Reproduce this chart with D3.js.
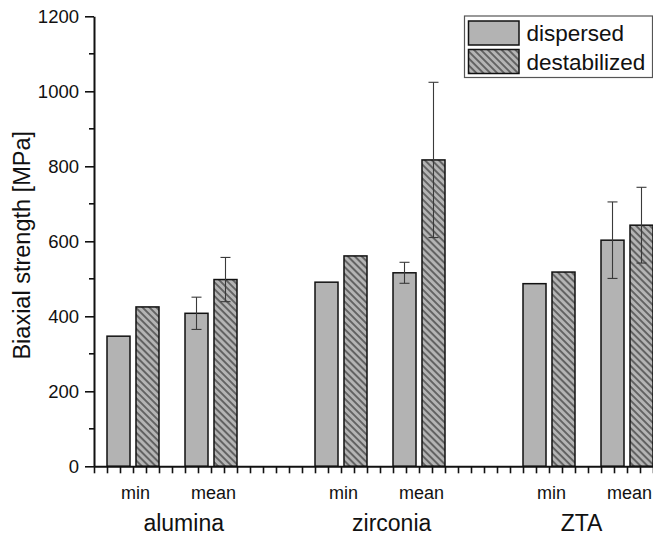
<!DOCTYPE html>
<html>
<head>
<meta charset="utf-8">
<script src="https://cdn.jsdelivr.net/npm/d3@7/dist/d3.min.js"></script>
<style>
  html, body { margin: 0; padding: 0; background: #fff; }
  svg { display: block; font-family: Arial, "Liberation Sans", sans-serif; }
</style>
</head>
<body>
<svg id="chart" width="653" height="536"></svg>
<script>
// Biaxial strength of sintered ceramics, dispersed vs destabilized suspensions
const materials = ["alumina", "zirconia", "ZTA"];
const stats = ["min", "mean"];
const seriesNames = ["dispersed", "destabilized"];

const dispersedMin  = [347, 491, 487];
const dispersedMean = [408, 516, 603];
const destabMin     = [425, 561, 518];
const destabMean    = [498, 817, 643];
const dispersedMeanErr = [43, 28, 102];
const destabMeanErr    = [59, 207, 101];

const yTicks = [0, 200, 400, 600, 800, 1000, 1200];

const svg = d3.select("#chart");
const FONT = "Arial, 'Liberation Sans', sans-serif";

// x runs over unit slots: each material block is 16 slots wide,
// each stat pair occupies 4 slots and starts 6 slots after the previous one
const x = d3.scaleLinear().domain([0, 43]).range([94, 653]);
const y = d3.scaleLinear().domain([0, 1200]).range([466.3, 16.3]);

const barW = 1.77;           // in slot units
const pairStart = (i, j) => 16 * i + 1 + 6 * j;

// hatch pattern for destabilized bars
const defs = svg.append("defs");
const pat = defs.append("pattern")
  .attr("id", "hatch")
  .attr("patternUnits", "userSpaceOnUse")
  .attr("width", 4.9).attr("height", 4.9)
  .attr("patternTransform", "rotate(-45)");
pat.append("rect").attr("width", 4.9).attr("height", 4.9).attr("fill", "#b4b4b4");
pat.append("line").attr("x1", 1).attr("y1", 0).attr("x2", 1).attr("y2", 4.9)
  .attr("stroke", "#222").attr("stroke-width", 1.1);

// build bar records
const bars = [];
materials.forEach((m, i) => {
  stats.forEach((s, j) => {
    const st = pairStart(i, j);
    bars.push({ series: 0, x0: st, value: j === 0 ? dispersedMin[i] : dispersedMean[i],
                err: j === 0 ? null : dispersedMeanErr[i] });
    bars.push({ series: 1, x0: st + 4 - barW, value: j === 0 ? destabMin[i] : destabMean[i],
                err: j === 0 ? null : destabMeanErr[i] });
  });
});

svg.append("g").selectAll("rect").data(bars).join("rect")
  .attr("x", d => x(d.x0))
  .attr("y", d => y(d.value))
  .attr("width", d => x(d.x0 + barW) - x(d.x0))
  .attr("height", d => y(0) - y(d.value))
  .attr("fill", d => d.series === 0 ? "#b3b3b3" : "url(#hatch)")
  .attr("stroke", "#111")
  .attr("stroke-width", 1.5);

// error bars
const eb = svg.append("g").attr("stroke", "#3a3a3a").attr("stroke-width", 1.1);
bars.filter(d => d.err != null).forEach(d => {
  const cx = x(d.x0 + barW / 2);
  const top = y(d.value + d.err), bot = y(d.value - d.err);
  eb.append("line").attr("x1", cx).attr("x2", cx).attr("y1", top).attr("y2", bot);
  eb.append("line").attr("x1", cx - 5).attr("x2", cx + 5).attr("y1", top).attr("y2", top);
  eb.append("line").attr("x1", cx - 5).attr("x2", cx + 5).attr("y1", bot).attr("y2", bot);
});

// y axis
const yAxis = d3.axisLeft(y).tickValues(yTicks).tickFormat(d3.format("d"))
  .tickSize(9).tickPadding(6).tickSizeOuter(0);
const gy = svg.append("g").attr("transform", `translate(${x(0)},0)`).call(yAxis);
gy.attr("font-family", FONT);
gy.select(".domain").attr("stroke", "#111").attr("stroke-width", 2);
gy.selectAll(".tick line").attr("stroke", "#111").attr("stroke-width", 1.6);
gy.selectAll(".tick text").attr("font-size", 18.5).attr("fill", "#111");
// minor ticks
svg.append("g").selectAll("line").data(d3.range(100, 1200, 200)).join("line")
  .attr("x1", x(0) - 5).attr("x2", x(0))
  .attr("y1", d => y(d)).attr("y2", d => y(d))
  .attr("stroke", "#111").attr("stroke-width", 1.6);

// x axis with unit ticks and no labels
const xAxis = d3.axisBottom(x).tickValues(d3.range(0, 44)).tickSize(7).tickFormat("").tickSizeOuter(0);
const gx = svg.append("g").attr("transform", `translate(0,${y(0)})`).call(xAxis);
gx.select(".domain").attr("stroke", "#111").attr("stroke-width", 2);
gx.selectAll(".tick line").attr("stroke", "#111").attr("stroke-width", 1.6);

// stat labels under each pair
const statLabels = [];
materials.forEach((m, i) => stats.forEach((s, j) => statLabels.push({ s, c: pairStart(i, j) + 2 })));
svg.append("g").selectAll("text").data(statLabels).join("text")
  .attr("x", d => x(d.c) + 2.5)
  .attr("y", 498.5)
  .attr("text-anchor", "middle")
  .attr("font-size", 18)
  .attr("fill", "#111")
  .text(d => d.s);

// material labels
const matCenters = [6.9, 22.9, 37.5];
svg.append("g").selectAll("text").data(materials).join("text")
  .attr("x", (d, i) => x(matCenters[i]))
  .attr("y", 531)
  .attr("text-anchor", "middle")
  .attr("font-size", 23)
  .attr("fill", "#111")
  .text(d => d);

// y axis title
svg.append("text")
  .attr("transform", `translate(29.5,${(y(0) + y(1200)) / 2 + 4}) rotate(-90)`)
  .attr("text-anchor", "middle")
  .attr("font-size", 23.5)
  .attr("fill", "#111")
  .text("Biaxial strength [MPa]");

// legend
const lg = svg.append("g");
lg.append("rect").attr("x", 464.5).attr("y", 16).attr("width", 188).attr("height", 61.5)
  .attr("fill", "#fff").attr("stroke", "#555").attr("stroke-width", 1.2);
seriesNames.forEach((name, k) => {
  lg.append("rect").attr("x", 468.5).attr("y", 21 + k * 28.5).attr("width", 50.5).attr("height", 24)
    .attr("fill", k === 0 ? "#b3b3b3" : "url(#hatch)")
    .attr("stroke", "#111").attr("stroke-width", 1.5);
  lg.append("text").attr("x", 526.5).attr("y", 41 + k * 28.5)
    .attr("font-size", 22.5).attr("fill", "#111").text(name);
});
</script>
</body>
</html>
